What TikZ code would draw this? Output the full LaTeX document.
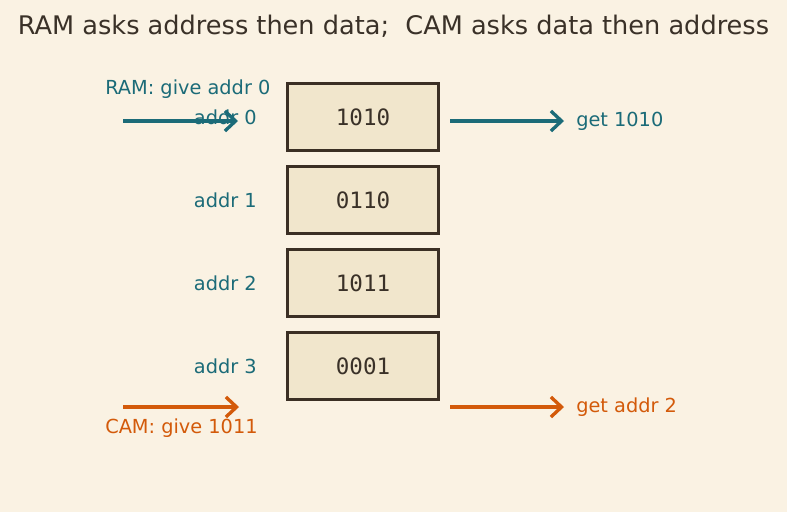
\documentclass[tikz,border=0pt]{standalone}
\usepackage{fontspec}
\setmainfont{DejaVu Sans}
\newfontfamily\monof{DejaVu Sans Mono}
\usetikzlibrary{arrows.meta}
\definecolor{bg}{HTML}{FAF2E3}
\definecolor{boxfill}{HTML}{F1E6CC}
\definecolor{boxline}{HTML}{3B2F24}
\definecolor{teal}{HTML}{1B6B78}
\definecolor{orng}{HTML}{D35A0A}
\definecolor{titlec}{HTML}{3A3128}
\tikzset{
  cell/.style={draw=boxline, line width=1.9pt, fill=boxfill, minimum width=113pt, minimum height=50pt, inner sep=0pt, font=\monof\fontsize{16.9}{20}\selectfont, text=titlec},
  addrlbl/.style={anchor=east, text=teal, font=\fontsize{14.5}{17}\selectfont, inner sep=0pt},
  arr/.style={line width=2.5pt, -{Straight Barb[length=8pt, width=15pt, line width=2.5pt]}},
  lbl/.style={font=\fontsize{14.5}{17}\selectfont, inner sep=0pt}
}
\begin{document}
\begin{tikzpicture}[x=0.75pt, y=-0.75pt]
\fill[bg] (0,0) rectangle (787,512);
\useasboundingbox (0,0) rectangle (787,512);
\node[font=\fontsize{19.2}{22}\selectfont, text=titlec, inner sep=0pt] (title) at (393.5,26) {RAM asks address then data;\ \ CAM asks data then address};
\node[cell] (c0) at (363,117) {1010};
\node[cell] (c1) at (363,200) {0110};
\node[cell] (c2) at (363,283) {1011};
\node[cell] (c3) at (363,366) {0001};
\node[addrlbl] (a0) at (257,117) {addr 0};
\node[addrlbl] (a1) at (257,200) {addr 1};
\node[addrlbl] (a2) at (257,283) {addr 2};
\node[addrlbl] (a3) at (257,366) {addr 3};
% RAM
\node[lbl, text=teal, anchor=west] (ramq) at (105,89.5) {RAM: give addr 0};
\coordinate (rs) at (123,121);
\coordinate (re) at (238,121);
\draw[arr, teal] (rs) -- (re);
\coordinate (rs2) at (450,121);
\node[lbl, text=teal, anchor=west] (ramr) at (576,121.5) {get 1010};
\draw[arr, teal] (rs2) -- ([xshift=-12*0.75pt]ramr.west |- rs2);
% CAM
\node[lbl, text=orng, anchor=west] (camq) at (105,428.5) {CAM: give 1011};
\coordinate (cs) at (123,407);
\coordinate (ce) at (239,407);
\draw[arr, orng] (cs) -- (ce);
\coordinate (cs2) at (450,407);
\node[lbl, text=orng, anchor=west] (camr) at (576,407.5) {get addr 2};
\draw[arr, orng] (cs2) -- ([xshift=-12*0.75pt]camr.west |- cs2);
\end{tikzpicture}
\end{document}
